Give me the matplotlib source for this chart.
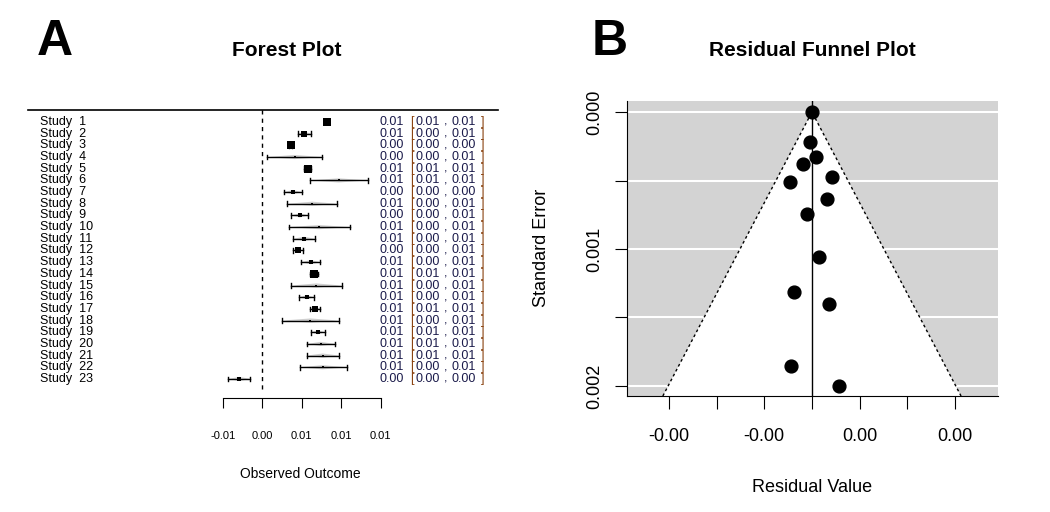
import matplotlib
matplotlib.use("Agg")
import matplotlib.pyplot as plt
import numpy as np

plt.rcParams['font.family'] = ['Liberation Sans', 'DejaVu Sans']

# ---- Forest plot data ----
studies = [f"Study  {i}" for i in range(1, 24)]
est = [0.00815, 0.00532, 0.0036, 0.0041, 0.00575, 0.00967, 0.00385, 0.00633, 0.00473, 0.00722,
       0.00528, 0.00448, 0.00612, 0.00658, 0.00684, 0.00562, 0.00667, 0.00608, 0.00701, 0.00739,
       0.00764, 0.00764, -0.0029]
lo = [0.0078, 0.00448, 0.0034, 0.0006, 0.0053, 0.00604, 0.00279, 0.00317, 0.00367, 0.00334,
      0.00393, 0.00385, 0.0049, 0.0060, 0.00367, 0.00469, 0.00608, 0.00246, 0.00612, 0.0057,
      0.00562, 0.00473, -0.0043]
hi = [0.0085, 0.00617, 0.0038, 0.0076, 0.0062, 0.01338, 0.00499, 0.00942, 0.00583, 0.01107,
      0.00671, 0.00511, 0.00734, 0.0071, 0.01005, 0.00654, 0.00734, 0.00975, 0.00794, 0.00916,
      0.00975, 0.01068, -0.0015]
forest_ticks = [-0.005, 0.0, 0.005, 0.010, 0.015]
forest_ticklabels = ["-0.01", "0.00", "0.01", "0.01", "0.01"]

# ---- Funnel plot data ----
resid = [0.0, -0.000054, 0.0001, -0.00024, -0.0006, 0.00056, 0.00042, -0.00013, 0.00019,
         -0.00048, 0.00046, -0.00057, 0.00074]
se = [0.0, 0.000217, 0.000331, 0.00038, 0.000509, 0.000477, 0.000637, 0.000745, 0.001056,
      0.001316, 0.001404, 0.001852, 0.002]
funnel_xticks = [-0.0039, -0.0026, -0.0013, 0.0, 0.0013, 0.0026, 0.0039]
funnel_xticklabels = ["-0.00", "", "-0.00", "", "0.00", "", "0.00"]
funnel_yticks = [0.0, 0.0005, 0.001, 0.0015, 0.002]
funnel_yticklabels = ["0.000", "", "0.001", "", "0.002"]


def fmt(v):
    s = f"{v:.2f}"
    return "0.00" if s == "-0.00" else s


fig = plt.figure(figsize=(10.5, 5.12), dpi=100)
PX = 0.0001266


def px2x(p):
    return (p - 262.3) * PX


# ----- Forest -----
ax = fig.add_axes([28/1050, 1-398/512, 470/1050, 288/512])
ax.set_xlim(px2x(28), px2x(498))
ax.set_ylim(-24.63, 0.027)
for s in ['left', 'right']:
    ax.spines[s].set_visible(False)
ax.spines['top'].set_linewidth(1.2)
ax.spines['bottom'].set_bounds(forest_ticks[0], forest_ticks[-1])
ax.set_yticks([])
ax.set_xticks(forest_ticks)
ax.set_xticklabels(forest_ticklabels, fontsize=8)
ax.tick_params(axis='x', length=7, pad=17)
ax.axvline(0, ymin=(24.63-23.9)/24.657, ymax=(24.63+0.25)/24.657, color='black', ls=(0, (3, 3)), lw=1)
fs = 9
for i in range(23):
    y = -(i + 1)
    w = hi[i] - lo[i]
    ax.fill([lo[i], est[i], hi[i], est[i]], [y, y + 0.18, y, y - 0.18], color='#bbbbbb', alpha=0.7, lw=0)
    ax.plot([lo[i], hi[i]], [y, y], color='black', lw=1)
    for xx in (lo[i], hi[i]):
        ax.plot([xx, xx], [y - 0.2, y + 0.2], color='black', lw=1)
    size = float(np.clip(0.0085 / w, 2, 8)) * 0.72
    ax.plot(est[i], y, marker='s', ms=size, color='black', mew=0)
    ax.text(px2x(40), y, studies[i], fontsize=fs, va='center', ha='left')
    ax.text(px2x(380), y, fmt(est[i]), fontsize=fs, va='center', ha='left', color='#1a1a4a')
    ax.text(px2x(410), y, "[", fontsize=fs, va='center', ha='left', color='#8b4513')
    ax.text(px2x(416), y, fmt(lo[i]), fontsize=fs, va='center', ha='left', color='#1a1a4a')
    ax.text(px2x(444), y, ",", fontsize=fs, va='center', ha='left', color='#1a1a4a')
    ax.text(px2x(452), y, fmt(hi[i]), fontsize=fs, va='center', ha='left', color='#1a1a4a')
    ax.text(px2x(481), y, "]", fontsize=fs, va='center', ha='left', color='#8b4513')
fig.text(300/1050, 1-474/512, "Observed Outcome", fontsize=10, ha='center', va='center')
fig.text(287/1050, 1-50/512, "Forest Plot", fontsize=15, fontweight='bold', ha='center', va='center')
fig.text(55/1050, 1-42/512, "A", fontsize=36, fontweight='bold', ha='center', va='center')

# ----- Funnel -----
ax2 = fig.add_axes([627/1050, 1-396/512, 371/1050, 295/512])
ytop, ybot = -0.0000803, 0.002073
xl, xr = -0.00504, 0.00507
ax2.set_xlim(xl, xr)
ax2.set_ylim(ybot, ytop)
ax2.set_facecolor('#d3d3d3')
for yt in funnel_yticks:
    ax2.axhline(yt, color='white', lw=1.5, zorder=1)
hw = 1.96 * ybot
ax2.fill([-hw, 0, hw], [ybot, 0, ybot], color='white', zorder=2, lw=0)
ax2.plot([-hw, 0, hw], [ybot, 0, ybot], color='black', ls=(0, (2, 2)), lw=1, zorder=3)
ax2.axvline(0, color='black', lw=1, zorder=3)
ax2.scatter(resid, se, s=85, color='black', zorder=4)
for s in ['top', 'right']:
    ax2.spines[s].set_visible(False)
ax2.set_xticks(funnel_xticks)
ax2.set_xticklabels(funnel_xticklabels, fontsize=13)
ax2.set_yticks(funnel_yticks)
ax2.set_yticklabels(funnel_yticklabels, fontsize=13, rotation=90, va='center')
ax2.tick_params(length=9, pad=14)
ax2.tick_params(axis='y', pad=8)
fig.text(812/1050, 1-487/512, "Residual Value", fontsize=13, ha='center', va='center')
fig.text(541/1050, 1-248/512, "Standard Error", fontsize=13, ha='center', va='center', rotation=90)
fig.text(812/1050, 1-50/512, "Residual Funnel Plot", fontsize=15, fontweight='bold', ha='center', va='center')
fig.text(610/1050, 1-42/512, "B", fontsize=36, fontweight='bold', ha='center', va='center')

fig.savefig("out.png", dpi=100)
